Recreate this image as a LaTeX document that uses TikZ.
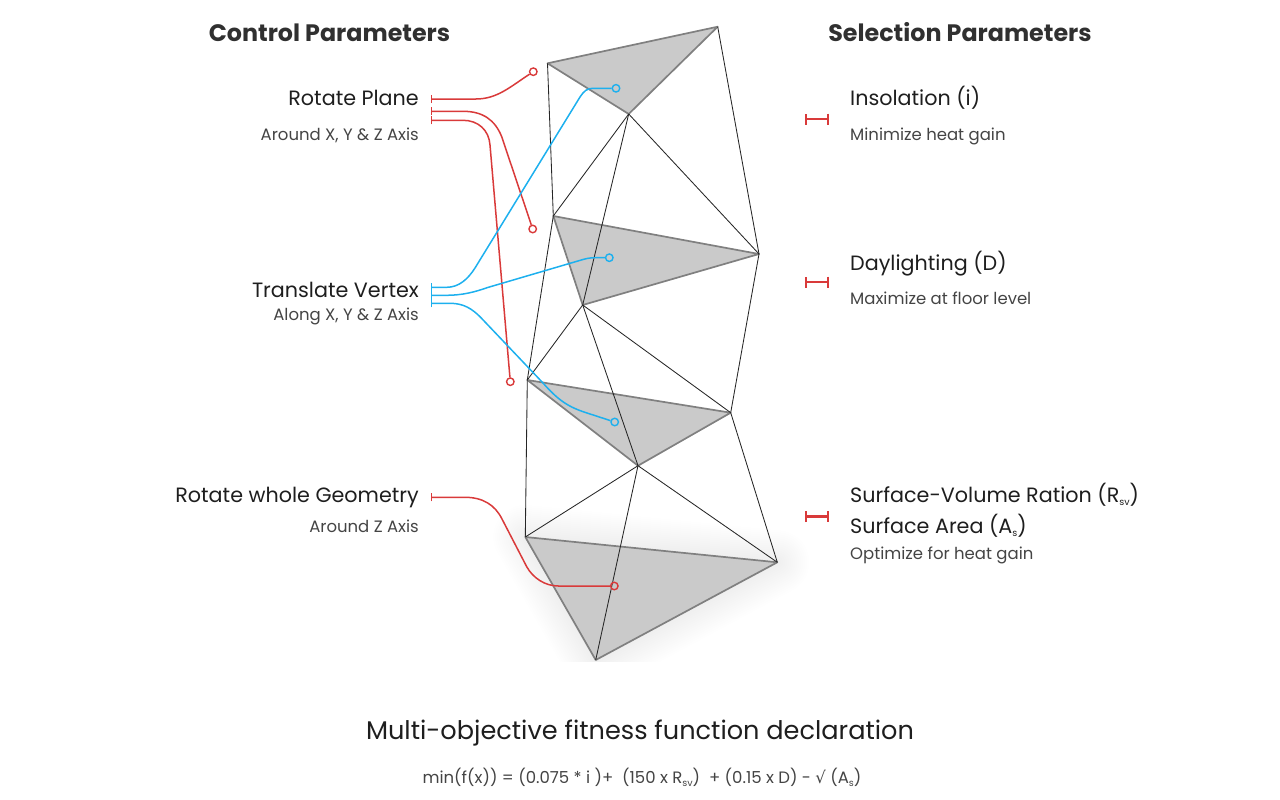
\documentclass[tikz,border=0pt]{standalone}
\usepackage{fontspec}
\setmainfont{Poppins}
\newfontfamily\dejavu{DejaVu Sans}
\usetikzlibrary{arrows.meta}
\definecolor{redc}{HTML}{D93A3A}
\definecolor{bluec}{HTML}{1DB0EE}
\definecolor{triface}{HTML}{CACACA}
\definecolor{triedge}{HTML}{808080}
\definecolor{txt}{HTML}{1E1E1E}
\definecolor{subt}{HTML}{444444}
\newcommand{\subs}[1]{\raisebox{-3pt}{\fontsize{9.5}{9.5}\selectfont #1}}
\tikzset{
  x=1pt,y=-1pt,
  tri/.style={fill=triface,draw=triedge,line width=1.7pt,line join=round},
  mesh/.style={draw=black!85,line width=0.85pt},
  wire/.style={line width=1.5pt},
  redw/.style={wire,draw=redc},
  bluew/.style={wire,draw=bluec},
  startbar/.style={{Bar[width=8pt,line width=1.1pt]}-},
  dotr/.style={circle,draw=redc,line width=1.4pt,minimum size=7.5pt,inner sep=0pt},
  dotb/.style={circle,draw=bluec,line width=1.4pt,minimum size=7.5pt,inner sep=0pt},
  title/.style={font=\fontsize{23.8}{24}\selectfont\bfseries,text=txt!92,inner sep=0pt},
  head/.style={font=\fontsize{20.7}{21}\selectfont,text=txt,inner sep=0pt},
  sub/.style={font=\fontsize{16.5}{17}\selectfont,text=subt,inner sep=0pt},
  lblr/.style={anchor=base east},
  lbll/.style={anchor=base west},
  measure/.style={draw=redc,line width=2.2pt,{Bar[width=11pt,line width=2.2pt]}-{Bar[width=11pt,line width=2.2pt]}}
}
\begin{document}
\begin{tikzpicture}
\useasboundingbox (0,0) rectangle (1280,800);
% vertices
\coordinate (A) at (547.5,63.3);
\coordinate (B) at (717.7,26.7);
\coordinate (C) at (628.7,114);
\coordinate (D) at (553.3,216);
\coordinate (E) at (759,254);
\coordinate (F) at (582.7,305);
\coordinate (G) at (527.3,380);
\coordinate (H) at (730.7,412.7);
\coordinate (I) at (638,465.7);
\coordinate (J) at (525.3,537);
\coordinate (K) at (777.3,562.3);
\coordinate (L) at (595.7,660);
% soft shadow
\begin{scope}
\clip (440,480) rectangle (860,661);
\foreach \w in {4,8,...,64}{
  \path[draw=black,fill=black,opacity=0.0022,line width=\w pt,line join=round] (J) -- (K) -- (L) -- cycle;
}
\end{scope}
% grey faces
\draw[tri] (A) -- (B) -- (C) -- cycle;
\draw[tri] (D) -- (E) -- (F) -- cycle;
\draw[tri] (G) -- (H) -- (I) -- cycle;
\draw[tri] (J) -- (K) -- (L) -- cycle;
% mesh
\foreach \a/\b in {A/D,C/D,C/F,C/E,B/E,D/G,F/G,F/I,F/H,E/H,G/J,I/J,I/L,I/K,H/K}{
  \draw[mesh] (\a) -- (\b);
}
% connector ends
\coordinate (r1s) at (431,99);
\coordinate (r2s) at (431,111.3);
\coordinate (r3s) at (431,120.3);
\coordinate (r4s) at (431,497.3);
\coordinate (b1s) at (431,287.3);
\coordinate (b2s) at (431,295.3);
\coordinate (b3s) at (431,303.3);
\node[dotr] (r1e) at (533.3,71.7) {};
\node[dotr] (r2e) at (532.7,229) {};
\node[dotr] (r3e) at (510.3,381.7) {};
\node[dotr] (r4e) at (614.3,586) {};
\node[dotb] (b1e) at (616,88.3) {};
\node[dotb] (b2e) at (609.3,257.7) {};
\node[dotb] (b3e) at (614.7,422) {};
% red connectors
\draw[redw,startbar] (r1s) -- (476,99) .. controls (497,99) and (510,87) .. (r1e);
\draw[redw,startbar] (r2s) -- (463,111.3) .. controls (483,111.3) and (495,120) .. (501.7,136.7) -- (r2e);
\draw[redw,startbar] (r3s) -- (463,120.3) .. controls (478,120.3) and (489,130) .. (490,145) -- (r3e);
\draw[redw,startbar] (r4s) -- (465,497.3) .. controls (483,497.3) and (495,505) .. (502,519) -- (526.7,566.7) .. controls (533,578) and (545,586) .. (558.3,586) -- (r4e);
% blue connectors
\draw[bluew,startbar] (b1s) -- (446.7,287.3) .. controls (459,287.3) and (468,279) .. (475,268) -- (580,97) .. controls (584,91) and (587,88.3) .. (593,88.3) -- (b1e);
\draw[bluew,startbar] (b2s) -- (446.7,295.3) .. controls (462,295.3) and (475,292) .. (487,287.7) -- (583,259.5) .. controls (588,258) and (592,257.7) .. (596,257.7) -- (b2e);
\draw[bluew,startbar] (b3s) -- (450,303.3) .. controls (464,303.3) and (472,309) .. (480,316.7) -- (543,383) .. controls (558,400) and (568,407) .. (587,413) -- (b3e);
% right measures
\coordinate (m1a) at (805,119); \coordinate (m1b) at (829,119);
\coordinate (m2a) at (805,282); \coordinate (m2b) at (829,282);
\coordinate (m3a) at (805,516.5); \coordinate (m3b) at (829,516.5);
\draw[measure] (m1a) -- (m1b);
\draw[measure] (m2a) -- (m2b);
\draw[measure] (m3a) -- (m3b);
% titles
\node[title,anchor=base] (t1) at (329.5,42) {Control Parameters};
\node[title,anchor=base] (t2) at (960,42) {Selection Parameters};
% left labels
\node[head,lblr] (l1) at (419,105) {Rotate Plane};
\node[sub,lblr] (l1s) at (419,140) {Around X, Y \& Z Axis};
\node[head,lblr] (l2) at (419,297) {Translate Vertex};
\node[sub,lblr] (l2s) at (419,320) {Along X, Y \& Z Axis};
\node[head,lblr] (l3) at (419,502) {Rotate whole Geometry};
\node[sub,lblr] (l3s) at (419,532) {Around Z Axis};
% right labels
\node[head,lbll] (s1) at (850,105) {Insolation (i)};
\node[sub,lbll] (s1s) at (850,140) {Minimize heat gain};
\node[head,lbll] (s2) at (850,270) {Daylighting (D)};
\node[sub,lbll] (s2s) at (850,304) {Maximize at floor level};
\node[head,lbll] (s3) at (850,502) {Surface-Volume Ration (R\subs{sv})};
\node[head,lbll] (s4) at (850,533) {Surface Area (A\subs{s})};
\node[sub,lbll] (s4s) at (850,559) {Optimize for heat gain};
% bottom
\node[anchor=base,inner sep=0pt,text=txt,font=\fontsize{25.6}{26}\selectfont] (f1) at (640,739) {Multi-objective fitness function declaration};
\node[anchor=base,inner sep=0pt,text=subt,font=\fontsize{16.5}{17}\selectfont] (f2) at (642,783) {min(f(x)) = (0.075 * i )+ \ (150 x R\subs{sv}) \ + (0.15 x D) - {\dejavu √} (A\subs{s})};
\end{tikzpicture}
\end{document}
